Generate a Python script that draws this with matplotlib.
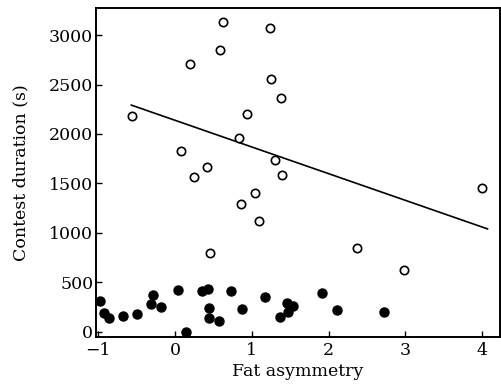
import numpy as np
import matplotlib
matplotlib.use('Agg')
import matplotlib.pyplot as plt

# open circles
open_x = [-0.565, 0.62, 0.585, 0.194, 0.932, 0.828, 0.077, 0.411, 0.246, 1.044,
          1.236, 1.253, 1.379, 1.30, 1.396, 4.0, 0.854, 1.093, 0.454, 2.364, 2.984]
open_y = [2184, 3135, 2848, 2704, 2198, 1955, 1827, 1668, 1561, 1405,
          3068, 2552, 2366, 1736, 1590, 1455, 1288, 1118, 799, 843, 624]

# filled circles
fill_x = [-0.977, -0.922, -0.861, -0.674, -0.5, -0.318, -0.284, -0.188, 0.042, 0.138,
          0.35, 0.432, 0.445, 0.445, 0.572, 0.724, 0.875, 1.17, 1.453, 1.54,
          1.466, 1.37, 1.909, 2.112, 2.724]
fill_y = [313, 192, 139, 159, 179, 280, 374, 247, 422, 0,
          408, 429, 240, 139, 108, 408, 230, 348, 287, 263,
          196, 146, 388, 219, 196]

# regression line end points
line_x = [-0.57, 4.07]
line_y = [2292, 1040]

xticks = [-1, 0, 1, 2, 3, 4]
yticks = [0, 500, 1000, 1500, 2000, 2500, 3000]

plt.rcParams['font.family'] = ['DejaVu Serif']

fig = plt.figure(figsize=(5.01, 3.85), dpi=100)
ax = fig.add_axes([0.1916, 0.1255, 0.806, 0.8535])

ax.plot(line_x, line_y, color='black', lw=1.2)
ax.plot(open_x, open_y, 'o', ms=6, mfc='white', mec='black', mew=1.2, ls='none')
ax.plot(fill_x, fill_y, 'o', ms=6.5, mfc='black', mec='black', ls='none')

ax.set_xlim(-1.03, 4.23)
ax.set_ylim(-50, 3273)
ax.set_xticks(xticks)
ax.set_yticks(yticks)
ax.set_xticklabels(['\u22121', '0', '1', '2', '3', '4'])
ax.tick_params(direction='in', length=4, width=1, labelsize=12.5)
ax.tick_params(axis='x', pad=4)
ax.tick_params(axis='y', pad=2)
for s in ax.spines.values():
    s.set_linewidth(1.4)

ax.set_xlabel('Fat asymmetry', fontsize=12.5, labelpad=3)
ax.set_ylabel('Contest duration (s)', fontsize=12.5, labelpad=14)

fig.savefig('out.png', dpi=100)
